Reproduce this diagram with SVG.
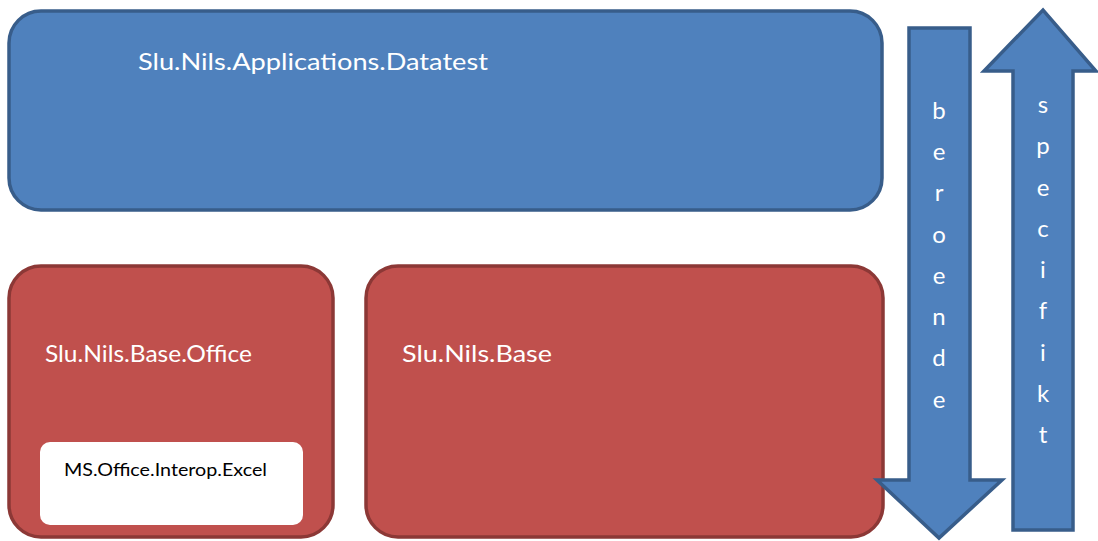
<svg xmlns="http://www.w3.org/2000/svg" width="1098" height="541" viewBox="0 0 1098 541">
<style>
.blue{fill:#4F81BD;stroke:#385D8A;stroke-width:3.5}
.red{fill:#C0504D;stroke:#8C3836;stroke-width:3.5}
.lbl{font-family:Lato,"Open Sans",sans-serif;font-size:24px;fill:#FFFFFF}
.vl{font-family:Lato,"Open Sans",sans-serif;font-size:24px;fill:#FFFFFF;text-anchor:middle}
.blk{font-family:Lato,"Open Sans",sans-serif;font-size:18px;fill:#000000}
</style>
<rect width="1098" height="541" fill="#FFFFFF"/>
<g id="datatest">
<rect class="blue" x="9" y="11" width="873" height="199" rx="32"/>
<text class="lbl" x="138" y="70" textLength="350" lengthAdjust="spacingAndGlyphs">Slu.Nils.Applications.Datatest</text>
</g>
<g id="office">
<rect class="red" x="9" y="266" width="324" height="271" rx="32"/>
<text class="lbl" x="45" y="362" textLength="207" lengthAdjust="spacingAndGlyphs">Slu.Nils.Base.Office</text>
</g>
<g id="excel">
<rect x="40" y="442" width="263" height="83" rx="10" fill="#FFFFFF"/>
<text class="blk" x="64" y="476" textLength="203" lengthAdjust="spacingAndGlyphs">MS.Office.Interop.Excel</text>
</g>
<g id="base">
<rect class="red" x="366" y="266" width="517" height="271" rx="32"/>
<text class="lbl" x="402" y="362" textLength="150" lengthAdjust="spacingAndGlyphs">Slu.Nils.Base</text>
</g>
<g id="connectors">
<g id="beroende">
<polygon class="blue" points="909,28 970,28 970,480 1002,480 939,538 877,480 909,480"/>
<text class="vl" x="939" y="119">b</text>
<text class="vl" x="939" y="160">e</text>
<text class="vl" x="939" y="201">r</text>
<text class="vl" x="939" y="243">o</text>
<text class="vl" x="939" y="284">e</text>
<text class="vl" x="939" y="325">n</text>
<text class="vl" x="939" y="366">d</text>
<text class="vl" x="939" y="408">e</text>
</g>
<g id="specifikt">
<polygon class="blue" points="1013,530 1073,530 1073,71 1096,71 1043,10 984,71 1013,71"/>
<text class="vl" x="1043" y="113">s</text>
<text class="vl" x="1043" y="154">p</text>
<text class="vl" x="1043" y="196">e</text>
<text class="vl" x="1043" y="237">c</text>
<text class="vl" x="1043" y="278">i</text>
<text class="vl" x="1043" y="319">f</text>
<text class="vl" x="1043" y="361">i</text>
<text class="vl" x="1043" y="402">k</text>
<text class="vl" x="1043" y="443">t</text>
</g>
</g>
</svg>
